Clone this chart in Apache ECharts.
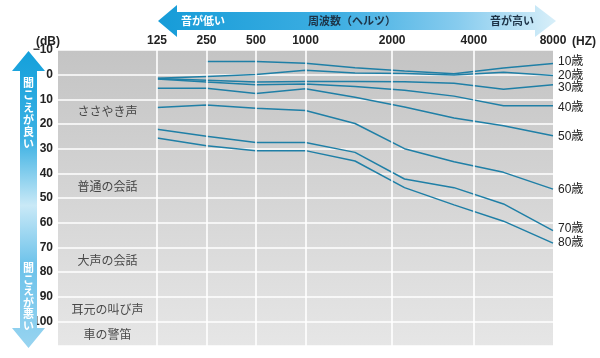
<!DOCTYPE html>
<html><head><meta charset="utf-8">
<script src="https://cdn.jsdelivr.net/npm/echarts@6/dist/echarts.min.js"></script>
<style>html,body{margin:0;padding:0;background:#fff}#c{width:600px;height:358px}</style>
</head><body><div id="c"></div>
<script>
// measurement points along the frequency axis (0 = 125Hz ... 8 = 8000Hz)
const steps = [0, 1, 2, 3, 4, 5, 6, 7, 8];
const ageNames = ['10歳', '20歳', '30歳', '40歳', '50歳', '60歳', '70歳', '80歳'];
const age10 = [null, -5.3, -5.3, -4.6, -2.8, -1.5, -0.4, -2.7, -4.5];
const age20 = [1.5, 0.7, -0.1, -1.8, -0.7, -0.5, 0.1, -1.0, 0.3];
const age30 = [1.6, 2.3, 3.0, 2.8, 2.8, 2.9, 3.5, 5.9, 4.1];
const age40 = [1.8, 3.0, 4.1, 3.8, 4.8, 6.3, 8.7, 12.6, 12.6];
const age50 = [5.5, 5.5, 7.6, 5.7, 9.2, 13.1, 17.6, 20.7, 24.8];
const age60 = [13.3, 12.3, 13.6, 14.5, 19.8, 30.0, 35.3, 39.6, 46.4];
const age70 = [22.1, 25.0, 27.5, 27.5, 31.5, 42.3, 45.8, 52.4, 63.2];
const age80 = [25.7, 28.8, 30.8, 30.8, 35.0, 45.8, 52.8, 59.4, 68.3];
const tickPos = [0, 1, 2, 3, 4.75, 6.4, 8];
const tickLabels = ['125', '250', '500', '1000', '2000', '4000', '8000'];
const soundNames = ['ささやき声', '普通の会話', '大声の会話', '耳元の叫び声', '車の警笛'];
const soundLevels = [15, 45.5, 75.5, 95, 105.5];
const soundX = -1;

const ageSeriesData = [age10, age20, age30, age40, age50, age60, age70, age80];
const labelNudge = [-2, 0, 3, 2, 1, 1, -2, 0];

const FONT = '"Liberation Sans", "Noto Sans CJK JP", sans-serif';
const JP = '"Noto Sans CJK JP", sans-serif';

const chart = echarts.init(document.getElementById('c'), null, {renderer: 'canvas'});

const series = [];
series.push({
  type: 'line', data: [], z: 1, silent: true,
  markLine: {
    silent: true, symbol: ['none', 'none'], animation: false,
    label: {show: false},
    lineStyle: {color: '#ffffff', width: 1.6, type: 'solid'},
    data: tickPos.slice(0, 6).map(v => ({xAxis: v}))
  }
});
ageSeriesData.forEach((arr, i) => {
  series.push({
    name: ageNames[i], type: 'line', z: 3,
    data: steps.map((s, j) => [s, arr[j]]),
    showSymbol: false, symbol: 'none',
    lineStyle: {color: '#1f7fa6', width: 1.5},
    endLabel: {
      show: true, formatter: '{a}', color: '#222', fontSize: 12,
      fontFamily: FONT, distance: 5, offset: [0, labelNudge[i]]
    }
  });
});
series.push({
  type: 'scatter', z: 4, symbolSize: 0, silent: true,
  data: soundNames.map((n, i) => ({name: n, value: [soundX, soundLevels[i]]})),
  label: {show: true, position: 'inside', formatter: '{b}', color: '#222',
    fontSize: 12, fontFamily: JP}
});

const option = {
  animation: false,
  backgroundColor: '#ffffff',
  grid: {
    left: 58, right: 47, top: 50, bottom: 12, show: true, borderWidth: 0,
    backgroundColor: {type: 'linear', x: 0, y: 0, x2: 0, y2: 1,
      colorStops: [{offset: 0, color: '#c4c4c4'}, {offset: 1, color: '#e6e6e6'}]}
  },
  xAxis: {
    type: 'value', position: 'top', min: -2, max: 8,
    axisLine: {show: false}, axisTick: {show: false}, splitLine: {show: false},
    axisLabel: {
      customValues: tickPos, margin: 3, color: '#222', fontSize: 12,
      fontWeight: 'bold', fontFamily: FONT,
      formatter: v => {
        let best = 0;
        tickPos.forEach((p, i) => { if (Math.abs(p - v) < Math.abs(tickPos[best] - v)) best = i; });
        return tickLabels[best];
      }
    }
  },
  yAxis: {
    type: 'value', inverse: true, min: -10, max: 110, interval: 10,
    axisLine: {show: false}, axisTick: {show: false},
    splitLine: {show: true, lineStyle: {color: '#ffffff', width: 1.6}},
    axisLabel: {
      margin: 5, color: '#222', fontSize: 12, fontWeight: 'bold', fontFamily: FONT,
      formatter: v => v === 110 ? '' : (v === -10 ? '−10' : String(v))
    }
  },
  series: series,
  graphic: [
    {
      type: 'polygon', z: 10,
      shape: {points: [[158, 21], [177, 5], [177, 12], [535, 12], [535, 5], [556, 21], [535, 37], [535, 30], [177, 30], [177, 37]]},
      style: {fill: {type: 'linear', x: 0, y: 0, x2: 1, y2: 0,
        colorStops: [{offset: 0, color: '#169cd8'}, {offset: 0.45, color: '#3eaee2'}, {offset: 0.75, color: '#86cbee'}, {offset: 1, color: '#d8eff9'}]}}
    },
    {type: 'text', z: 11, x: 181, y: 21, style: {text: '音が低い', fill: '#ffffff', font: 'bold 11px ' + JP, textVerticalAlign: 'middle'}},
    {type: 'text', z: 11, x: 352, y: 21, style: {text: '周波数（ヘルツ）', fill: '#1d3347', font: 'bold 11px ' + JP, textAlign: 'center', textVerticalAlign: 'middle'}},
    {type: 'text', z: 11, x: 490, y: 21, style: {text: '音が高い', fill: '#1d3347', font: 'bold 11px ' + JP, textVerticalAlign: 'middle'}},
    {
      type: 'polygon', z: 10,
      shape: {points: [[28.5, 51], [45, 71], [37, 71], [37, 328], [45, 328], [28.5, 348], [12, 328], [20, 328], [20, 71], [12, 71]]},
      style: {fill: {type: 'linear', x: 0, y: 0, x2: 0, y2: 1,
        colorStops: [{offset: 0, color: '#14a0db'}, {offset: 0.3, color: '#3cb1e3'}, {offset: 0.52, color: '#c9e9f7'}, {offset: 0.72, color: '#6cc2ea'}, {offset: 1, color: '#98d4f0'}]}}
    },
    {type: 'text', z: 11, x: 28.5, y: 77, style: {text: '聞\nこ\nえ\nが\n良\nい', fill: '#ffffff', font: 'bold 11px ' + JP, textAlign: 'center', lineHeight: 12.2}},
    {type: 'text', z: 11, x: 28.5, y: 262, style: {text: '聞\nこ\nえ\nが\n悪\nい', fill: '#ffffff', font: 'bold 11px ' + JP, textAlign: 'center', lineHeight: 11.6}},
    {type: 'text', z: 11, x: 36, y: 42, style: {text: '(dB)', fill: '#222', font: 'bold 12px ' + FONT, textVerticalAlign: 'middle'}},
    {type: 'text', z: 11, x: 572, y: 42, style: {text: '(HZ)', fill: '#222', font: 'bold 12px ' + FONT, textVerticalAlign: 'middle'}}
  ]
};
chart.setOption(option);
</script>
</body></html>
